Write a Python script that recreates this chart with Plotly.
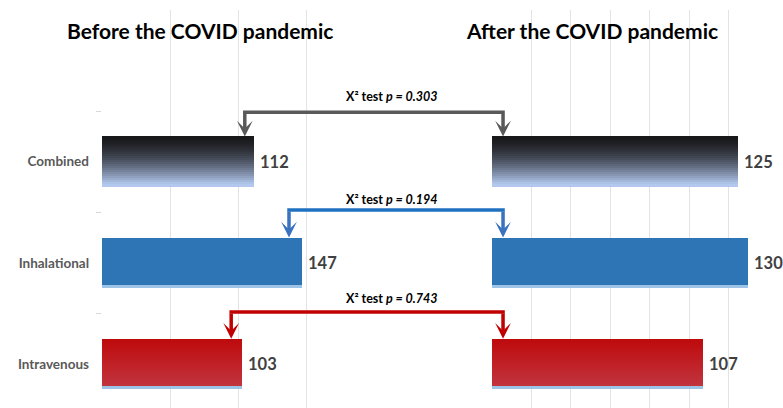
import plotly.graph_objects as go

# ---------------- data ----------------
categories = ["Combined", "Inhalational", "Intravenous"]
before_values = [112, 147, 103]
after_values = [125, 130, 107]
p_values = ["0.303", "0.194", "0.743"]
panel_titles = ["Before the COVID pandemic", "After the COVID pandemic"]

# bracket geometry (in axis units)
bracket_left_x = [105, 137.5, 95]      # on the "before" axis
bracket_right_x = [5.6, 5.6, 5.6]      # on the "after" axis
bracket_line_y = [2.49, 1.522, 0.513]  # on the shared category axis
bracket_text_y = [2.64, 1.63, 0.65]

# ---------------- layout constants ----------------
W, H = 783, 408
L_DOM = [102 / W, 374 / W]
R_DOM = [492 / W, 768 / W]
L_RANGE = [0, 200]
R_RANGE = [0, 140]
Y_RANGE = [-0.436, 3.5]
BAR_W = 0.5
y_pos = [2, 1, 0]

FONT = "Lato"

# per category: top colour, bottom colour, bottom edge colour, curve exponent
grad = [
    ((24, 24, 26), (178, 200, 238), (178, 200, 238), 1.6),
    ((46, 117, 182), (46, 117, 182), (157, 195, 230), 1.0),
    ((190, 10, 12), (193, 52, 62), (157, 195, 230), 1.0),
]
arrow_colors = ["#595959", "#3a72c0", "#c00000"]
line_colors = ["#595959", "#1f70c1", "#c00000"]


def rgb(c):
    return "rgb(%d,%d,%d)" % tuple(int(round(v)) for v in c)


def mix(a, b, s):
    return tuple(a[i] + (b[i] - a[i]) * s for i in range(3))


def px_x(v, dom, rng):
    return dom[0] + (v - rng[0]) / (rng[1] - rng[0]) * (dom[1] - dom[0])


def px_y(v):
    return (v - Y_RANGE[0]) / (Y_RANGE[1] - Y_RANGE[0])


fig = go.Figure()

N = 24
EDGE = 0.03
sw = (BAR_W - EDGE) / N

for vals, xa, ya in [(before_values, "x", "y"), (after_values, "x2", "y2")]:
    # bottom edge line
    fig.add_trace(go.Bar(
        x=vals, y=y_pos, orientation="h", xaxis=xa, yaxis=ya,
        width=EDGE + 0.004, offset=-BAR_W / 2,
        marker=dict(color=[rgb(g[2]) for g in grad], line=dict(width=0)),
        hoverinfo="skip", showlegend=False,
    ))
    for k in range(N):
        t_from_top = 1 - (k + 0.5) / N
        cols = [rgb(mix(g[0], g[1], t_from_top ** g[3])) for g in grad]
        w = sw * 1.15 if k < N - 1 else sw
        fig.add_trace(go.Bar(
            x=vals, y=y_pos, orientation="h", xaxis=xa, yaxis=ya,
            width=w, offset=-BAR_W / 2 + EDGE + k * sw,
            marker=dict(color=cols, line=dict(width=0)),
            hoverinfo="skip", showlegend=False,
        ))

annotations = []
shapes = []

# value labels
for vals, xa, ya in [(before_values, "x", "y"), (after_values, "x2", "y2")]:
    for v, yp in zip(vals, y_pos):
        annotations.append(dict(
            x=v, y=yp, xref=xa, yref=ya, xanchor="left", yanchor="middle",
            xshift=4, text="<b>%d</b>" % v, showarrow=False,
            font=dict(family=FONT, size=16.5, color="#404040"),
        ))

# panel titles
for title, cx in zip(panel_titles, [200 / W, 592 / W]):
    annotations.append(dict(x=cx, y=3.3, xref="paper", yref="y", xanchor="center", yanchor="middle",
                            text="<b>%s</b>" % title, showarrow=False,
                            font=dict(family=FONT, size=21, color="#000000")))

# brackets
for i in range(3):
    top = y_pos[i] + BAR_W / 2
    ly = bracket_line_y[i]
    for xa, ya, bx in [("x", "y", bracket_left_x[i]), ("x2", "y2", bracket_right_x[i])]:
        annotations.append(dict(
            x=bx, y=top, xref=xa, yref=ya, ax=bx, ay=ly, axref=xa, ayref=ya,
            text="", showarrow=True, arrowhead=3, arrowsize=0.75, arrowwidth=3.5,
            arrowcolor=arrow_colors[i], standoff=0,
        ))
    x0 = px_x(bracket_left_x[i], L_DOM, L_RANGE) - 1.75 / W
    x1 = px_x(bracket_right_x[i], R_DOM, R_RANGE) + 1.75 / W
    shapes.append(dict(type="line", xref="paper", yref="paper", x0=x0, x1=x1,
                       y0=px_y(ly), y1=px_y(ly), line=dict(color=line_colors[i], width=3.5)))
    annotations.append(dict(
        x=0.5, y=bracket_text_y[i], xref="paper", yref="y", xanchor="center", showarrow=False,
        text="<b>X² test <i>p = %s</i></b>" % p_values[i],
        font=dict(family=FONT, size=12.5, color="#000000"),
    ))

grid = "#e3e3e3"
fig.update_layout(
    width=W, height=H,
    margin=dict(l=0, r=0, t=10, b=0),
    paper_bgcolor="white", plot_bgcolor="white",
    barmode="overlay", bargap=0,
    showlegend=False,
    xaxis=dict(domain=L_DOM, range=L_RANGE, dtick=50, tick0=0, showgrid=True, gridcolor=grid,
               gridwidth=1, zeroline=False, showticklabels=False, ticks="", anchor="y", fixedrange=True),
    xaxis2=dict(domain=R_DOM, range=R_RANGE, dtick=20, tick0=0, showgrid=True, gridcolor=grid,
                gridwidth=1, zeroline=False, showticklabels=False, ticks="", anchor="y2", fixedrange=True),
    yaxis=dict(domain=[0, 1], range=Y_RANGE, anchor="x", tickvals=y_pos,
               ticktext=["<b>%s</b>" % c for c in categories],
               showgrid=False, zeroline=False, ticks="", ticklabelstandoff=12,
               tickfont=dict(family=FONT, size=13.5, color="#595959"),
               minor=dict(tickvals=[0.5, 1.5, 2.5], ticks="outside", ticklen=5, tickcolor="#d9d9d9", showgrid=False),
               fixedrange=True),
    yaxis2=dict(domain=[0, 1], range=Y_RANGE, anchor="x2", showticklabels=False, showgrid=False,
                zeroline=False, ticks="", fixedrange=True),
    annotations=annotations,
    shapes=shapes,
)

fig.write_html("out.html", config={"displayModeBar": False},
               post_script="document.body.style.margin='0';document.body.style.overflow='hidden';")
